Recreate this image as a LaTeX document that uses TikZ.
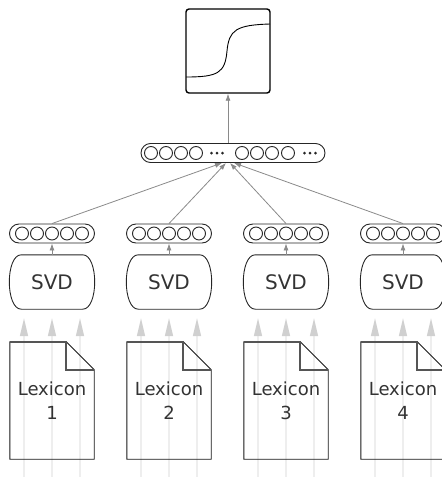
\documentclass[tikz,border=0pt]{standalone}
\usepackage{fontspec}
\setmainfont{DejaVu Sans}
\usetikzlibrary{arrows.meta,calc,backgrounds}
\definecolor{feed}{HTML}{8A8A8A}
\definecolor{faint}{HTML}{EEEEEE}
\definecolor{fainthead}{HTML}{D0D0D0}
\definecolor{fold}{HTML}{555555}
\definecolor{ink}{HTML}{333333}
\tikzset{
  pill/.style={draw=black!85, line width=0.9pt, rounded corners=9.5pt, minimum height=19pt, inner sep=0pt},
  cell/.style={circle, draw=black!85, line width=0.9pt, minimum size=13pt, inner sep=0pt},
  feedarrow/.style={draw=feed, line width=0.8pt, -{Latex[length=7pt,width=5pt]}},
  inarrow/.style={draw=faint, line width=1.4pt, -{Triangle[length=18pt,width=8pt,color=fainthead]}},
  svdbox/.style={minimum width=85pt, minimum height=54pt, inner sep=0pt, text=ink, font=\fontsize{20}{24}\selectfont},
  docbox/.style={minimum width=84pt, minimum height=117pt, inner sep=0pt, align=center, text=ink, font=\fontsize{18}{24}\selectfont},
}
\begin{document}
\begin{tikzpicture}[x=1pt,y=-1pt]
\useasboundingbox (0,0) rectangle (442,477);
\node[draw, line width=1.4pt, rounded corners=3pt, minimum size=84pt, inner sep=0pt] (sig) at (228,51) {};
\draw[line width=0.9pt] (186,77) .. controls (218,77) and (225,73) .. (227,51)
  .. controls (229,30) and (236,25) .. (270,24);
\node[pill, minimum width=184pt] (big) at (233,153) {};
\foreach \i/\x in {1/151,2/166,3/181,4/196,5/242,6/257,7/272,8/288}
  \node[cell] (bc\i) at (\x,153) {};
\foreach \x in {217,310}
  \foreach \d in {-5.5,0,5.5}
    \fill[black!85] ({\x+\d},153) circle (1.5pt);
\draw[feedarrow] ([xshift=-5pt]big.north) -- (sig.south);
\foreach \i/\x/\e in {1/52/-11,2/169/-7,3/286/-3,4/403/1} {
  \node[pill, minimum width=85pt] (vec\i) at (\x,233.5) {};
  \foreach \j in {-2,...,2}
    \node[cell] (vc\i\j) at ({\x+15*\j},233.5) {};
  \node[svdbox] (svd\i) at (\x,282) {SVD};
  \draw[black!85, line width=0.9pt] ($(svd\i.north west)+(12,0)$) -- ($(svd\i.north east)+(-12,0)$)
    .. controls ($(svd\i.north east)+(4,0)$) and ($(svd\i.south east)+(4,0)$) .. ($(svd\i.south east)+(-12,0)$)
    -- ($(svd\i.south west)+(12,0)$)
    .. controls ($(svd\i.south west)+(-4,0)$) and ($(svd\i.north west)+(-4,0)$) .. cycle;
  \node[docbox] (doc\i) at (\x,400.5) {Lexicon\\\i};
  \draw[black!90, line width=0.9pt] (doc\i.north west) -- ($(doc\i.north east)+(-28,0)$) -- ($(doc\i.north east)+(0,28)$)
    -- (doc\i.south east) -- (doc\i.south west) -- cycle;
  \draw[fold, line width=1.8pt] (doc\i.north west) -- ($(doc\i.north east)+(-28,0)$)
    -- ($(doc\i.north east)+(-28,28)$) -- ($(doc\i.north east)+(0,28)$);
  \begin{scope}[on background layer]
    \foreach \d in {-28,0,28}
      \draw[inarrow] ([xshift=\d pt]doc\i.south) ++(0,20) -- ([xshift=\d pt, yshift=-9pt]svd\i.south);
  \end{scope}
  \draw[feedarrow] (svd\i) -- (vec\i);
  \draw[feedarrow] (vec\i.north) -- ([xshift=\e pt]big.south);
}
\end{tikzpicture}
\end{document}
